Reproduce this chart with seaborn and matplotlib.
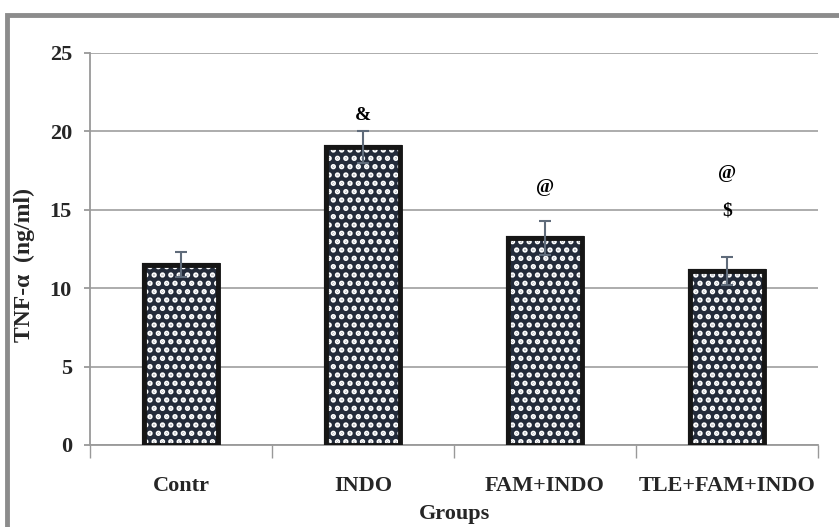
import matplotlib
matplotlib.use("Agg")
import matplotlib.pyplot as plt
from matplotlib.patches import Rectangle
import seaborn as sns
import pandas as pd

groups = ["Contr", "INDO", "FAM+INDO", "TLE+FAM+INDO"]
tnf_mean = [11.5, 19.0, 13.2, 11.1]
tnf_err = [0.8, 1.0, 1.1, 0.9]
marks_upper = ["", "&", "@", "@"]
marks_lower = ["", "", "", "$"]
y_ticks = [0, 5, 10, 15, 20, 25]

sns.set_theme(style="white")
plt.rcParams["font.family"] = ["Liberation Serif", "DejaVu Serif"]
plt.rcParams["hatch.linewidth"] = 2.6

df = pd.DataFrame({"group": groups, "tnf": tnf_mean})

fig = plt.figure(figsize=(8.39, 5.27), dpi=100)
ax = fig.add_axes([90 / 839, 1 - 445 / 527, 728 / 839, 392 / 527])

bar_color = "#232b3a"
edge_color = "#161616"
sns.barplot(data=df, x="group", y="tnf", color=bar_color, saturation=1,
            width=0.41, edgecolor=edge_color, linewidth=3, ax=ax, zorder=3)

# white dot texture over each bar, then redraw the dark outline on top
for p in list(ax.patches):
    ax.add_patch(Rectangle(p.get_xy(), p.get_width(), p.get_height(),
                           facecolor="none", edgecolor="white", hatch="..",
                           linewidth=0, zorder=3.5))
    ax.add_patch(Rectangle(p.get_xy(), p.get_width(), p.get_height(),
                           facecolor="none", edgecolor=edge_color,
                           linewidth=3.5, zorder=3.6))

xs = list(range(len(groups)))
ax.errorbar(xs, tnf_mean, yerr=tnf_err, fmt="none", ecolor="#5f6b7a",
            elinewidth=1.5, capsize=4.5, capthick=1.5, zorder=4)

# significance symbols above the error bars
for x, m, e, up, lo in zip(xs, tnf_mean, tnf_err, marks_upper, marks_lower):
    top = m + e
    style = dict(ha="center", va="center", fontsize=14, fontweight="bold",
                 color="black", zorder=5)
    if lo:
        ax.text(x, top + 2.9, lo, **style)
        ax.text(x, top + 5.3, up, **style)
    elif up == "&":
        ax.text(x, top + 1.0, up, **style)
    elif up:
        ax.text(x, top + 2.1, up, **style)

ax.set_ylim(0, 25)
ax.set_xlim(-0.5, len(groups) - 0.5)
ax.set_yticks(y_ticks)
ax.yaxis.grid(True, color="#a6a6a6", linewidth=1.3, zorder=0)
ax.set_axisbelow(True)

for side in ["top", "right"]:
    ax.spines[side].set_visible(False)
for side in ["left", "bottom"]:
    ax.spines[side].set_color("#999999")
    ax.spines[side].set_linewidth(1.3)

ax.set_xticks([i - 0.5 for i in range(len(groups) + 1)], minor=True)
ax.tick_params(axis="x", which="major", length=0, pad=22, labelsize=16)
ax.tick_params(axis="x", which="minor", length=9, width=1, color="#999999",
               direction="out", bottom=True)
ax.tick_params(axis="y", which="major", length=4, width=1.3, color="#999999",
               direction="out", left=True, labelsize=16, pad=9)
for lbl in ax.get_xticklabels() + ax.get_yticklabels():
    lbl.set_fontweight("bold")

ax.set_xlabel("Groups", fontsize=16, fontweight="bold", labelpad=6)
ax.set_ylabel("TNF-\u03b1  (ng/ml)", fontsize=17, fontweight="bold")
ax.yaxis.set_label_coords(-0.076, 0.46)

# outer frame around the chart area
fig.patches.append(Rectangle((7 / 839, -0.1), 2.0, (1 - 15 / 527) + 0.1,
                             transform=fig.transFigure, facecolor="none",
                             edgecolor="#8c8c8c", linewidth=3.5, zorder=0))

fig.savefig("out.png", dpi=100)
